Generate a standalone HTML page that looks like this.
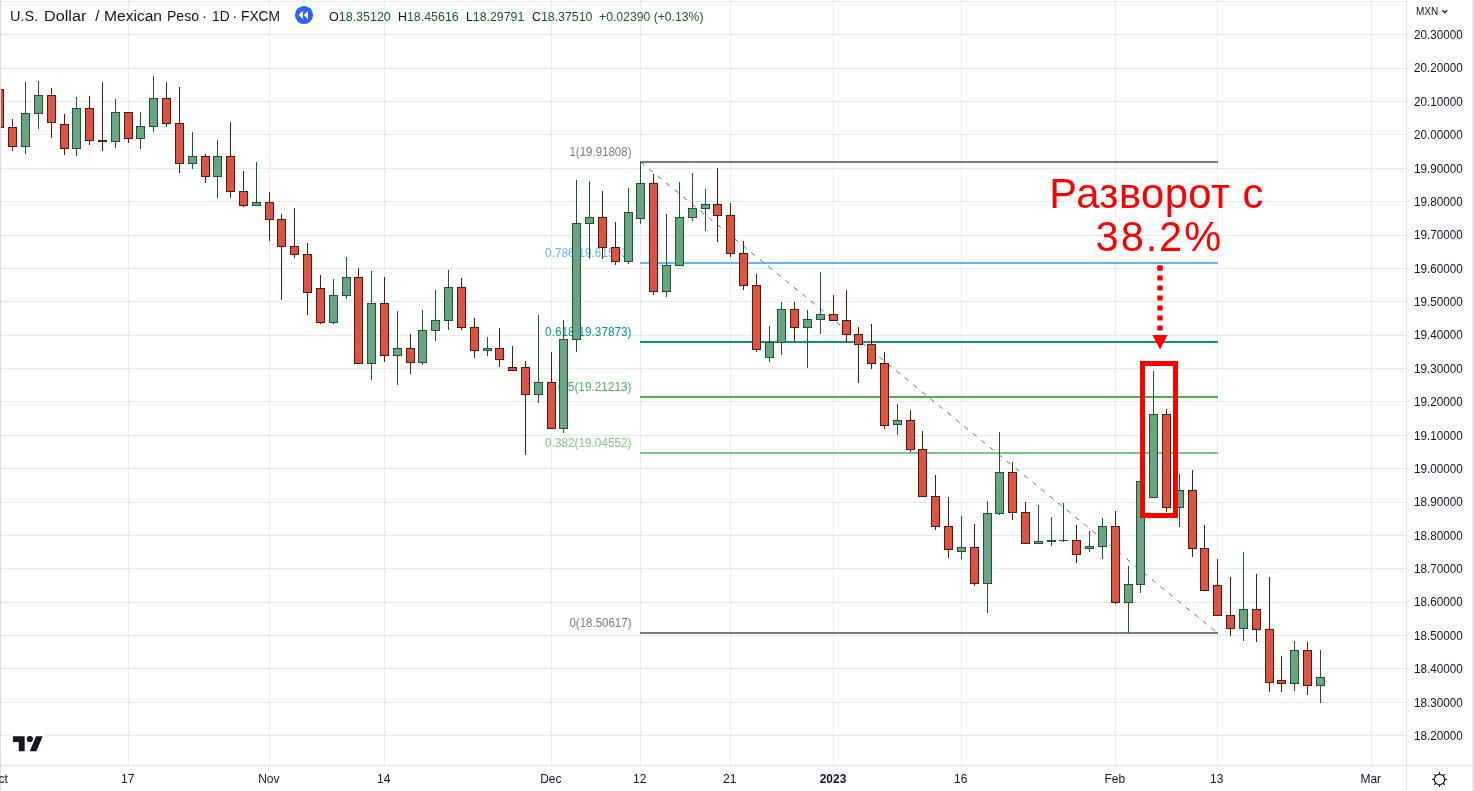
<!DOCTYPE html>
<html><head><meta charset="utf-8"><title>USDMXN</title>
<style>
html,body{margin:0;padding:0;background:#fff;}
body{width:1474px;height:791px;overflow:hidden;position:relative;font-family:"Liberation Sans",sans-serif;}
#L{position:absolute;left:0;top:0;width:1474px;height:791px;will-change:transform;transform:translateZ(0);}
svg{position:absolute;left:0;top:0;}
svg text{font-family:"Liberation Sans",sans-serif;}
.t{position:absolute;white-space:nowrap;}
</style></head><body><div id="L">
<svg width="1474" height="791" viewBox="0 0 1474 791" shape-rendering="crispEdges">
<rect x="1" y="1" width="1405" height="1" fill="rgba(42,46,57,0.105)"/>
<rect x="1" y="34" width="1405" height="1" fill="rgba(42,46,57,0.105)"/>
<rect x="1" y="68" width="1405" height="1" fill="rgba(42,46,57,0.105)"/>
<rect x="1" y="101" width="1405" height="1" fill="rgba(42,46,57,0.105)"/>
<rect x="1" y="134" width="1405" height="1" fill="rgba(42,46,57,0.105)"/>
<rect x="1" y="168" width="1405" height="1" fill="rgba(42,46,57,0.105)"/>
<rect x="1" y="201" width="1405" height="1" fill="rgba(42,46,57,0.105)"/>
<rect x="1" y="235" width="1405" height="1" fill="rgba(42,46,57,0.105)"/>
<rect x="1" y="268" width="1405" height="1" fill="rgba(42,46,57,0.105)"/>
<rect x="1" y="301" width="1405" height="1" fill="rgba(42,46,57,0.105)"/>
<rect x="1" y="335" width="1405" height="1" fill="rgba(42,46,57,0.105)"/>
<rect x="1" y="368" width="1405" height="1" fill="rgba(42,46,57,0.105)"/>
<rect x="1" y="401" width="1405" height="1" fill="rgba(42,46,57,0.105)"/>
<rect x="1" y="435" width="1405" height="1" fill="rgba(42,46,57,0.105)"/>
<rect x="1" y="468" width="1405" height="1" fill="rgba(42,46,57,0.105)"/>
<rect x="1" y="502" width="1405" height="1" fill="rgba(42,46,57,0.105)"/>
<rect x="1" y="535" width="1405" height="1" fill="rgba(42,46,57,0.105)"/>
<rect x="1" y="568" width="1405" height="1" fill="rgba(42,46,57,0.105)"/>
<rect x="1" y="602" width="1405" height="1" fill="rgba(42,46,57,0.105)"/>
<rect x="1" y="635" width="1405" height="1" fill="rgba(42,46,57,0.105)"/>
<rect x="1" y="668" width="1405" height="1" fill="rgba(42,46,57,0.105)"/>
<rect x="1" y="702" width="1405" height="1" fill="rgba(42,46,57,0.105)"/>
<rect x="1" y="735" width="1405" height="1" fill="rgba(42,46,57,0.105)"/>
<rect x="128" y="0" width="1" height="765" fill="rgba(42,46,57,0.085)"/>
<rect x="269" y="0" width="1" height="765" fill="rgba(42,46,57,0.085)"/>
<rect x="384" y="0" width="1" height="765" fill="rgba(42,46,57,0.085)"/>
<rect x="551" y="0" width="1" height="765" fill="rgba(42,46,57,0.085)"/>
<rect x="640" y="0" width="1" height="765" fill="rgba(42,46,57,0.085)"/>
<rect x="730" y="0" width="1" height="765" fill="rgba(42,46,57,0.085)"/>
<rect x="833" y="0" width="1" height="765" fill="rgba(42,46,57,0.085)"/>
<rect x="961" y="0" width="1" height="765" fill="rgba(42,46,57,0.085)"/>
<rect x="1115" y="0" width="1" height="765" fill="rgba(42,46,57,0.085)"/>
<rect x="1217" y="0" width="1" height="765" fill="rgba(42,46,57,0.085)"/>
<rect x="1371" y="0" width="1" height="765" fill="rgba(42,46,57,0.085)"/>
<rect x="640" y="161" width="578" height="2" fill="#787b86"/>
<rect x="640" y="262" width="578" height="2" fill="#64b5f6"/>
<rect x="640" y="341" width="578" height="2" fill="#089981"/>
<rect x="640" y="396" width="578" height="2" fill="#4caf50"/>
<rect x="640" y="452" width="578" height="2" fill="#81c784"/>
<rect x="640" y="632" width="578" height="2" fill="#787b86"/>
<line x1="640.5" y1="162" x2="1217.5" y2="633" stroke="#6f727d" stroke-width="1" stroke-dasharray="5 6" shape-rendering="auto"/>
<text x="631.5" y="156.2" text-anchor="end" font-size="12" fill="#787b86" textLength="62.1" lengthAdjust="spacingAndGlyphs" shape-rendering="auto">1(19.91808)</text>
<text x="631.5" y="257.2" text-anchor="end" font-size="12" fill="#64b5f6" textLength="86.4" lengthAdjust="spacingAndGlyphs" shape-rendering="auto">0.786(19.61593)</text>
<text x="631.5" y="336.2" text-anchor="end" font-size="12" fill="#089981" textLength="86.4" lengthAdjust="spacingAndGlyphs" shape-rendering="auto">0.618(19.37873)</text>
<text x="631.5" y="391.2" text-anchor="end" font-size="12" fill="#4caf50" textLength="73.5" lengthAdjust="spacingAndGlyphs" shape-rendering="auto">0.5(19.21213)</text>
<text x="631.5" y="447.2" text-anchor="end" font-size="12" fill="#81c784" textLength="86.4" lengthAdjust="spacingAndGlyphs" shape-rendering="auto">0.382(19.04552)</text>
<text x="631.5" y="627.2" text-anchor="end" font-size="12" fill="#787b86" textLength="62.1" lengthAdjust="spacingAndGlyphs" shape-rendering="auto">0(18.50617)</text>
<rect x="-1" y="89" width="1" height="39" fill="#5a1610"/>
<rect x="-5" y="89" width="9" height="39" fill="#5a1610"/>
<rect x="-4" y="90" width="7" height="37" fill="#d95443"/>
<rect x="12" y="119" width="1" height="32" fill="#5a1610"/>
<rect x="8" y="127" width="9" height="20" fill="#5a1610"/>
<rect x="9" y="128" width="7" height="18" fill="#d95443"/>
<rect x="25" y="82" width="1" height="72" fill="#1f5636"/>
<rect x="21" y="113" width="9" height="34" fill="#1f5636"/>
<rect x="22" y="114" width="7" height="32" fill="#69a583"/>
<rect x="38" y="81" width="1" height="48" fill="#1f5636"/>
<rect x="34" y="95" width="9" height="19" fill="#1f5636"/>
<rect x="35" y="96" width="7" height="17" fill="#69a583"/>
<rect x="51" y="88" width="1" height="50" fill="#5a1610"/>
<rect x="47" y="95" width="9" height="28" fill="#5a1610"/>
<rect x="48" y="96" width="7" height="26" fill="#d95443"/>
<rect x="64" y="114" width="1" height="41" fill="#5a1610"/>
<rect x="60" y="124" width="9" height="25" fill="#5a1610"/>
<rect x="61" y="125" width="7" height="23" fill="#d95443"/>
<rect x="76" y="97" width="1" height="59" fill="#1f5636"/>
<rect x="72" y="108" width="9" height="41" fill="#1f5636"/>
<rect x="73" y="109" width="7" height="39" fill="#69a583"/>
<rect x="89" y="96" width="1" height="49" fill="#5a1610"/>
<rect x="85" y="108" width="9" height="33" fill="#5a1610"/>
<rect x="86" y="109" width="7" height="31" fill="#d95443"/>
<rect x="102" y="82" width="1" height="69" fill="#5a1610"/>
<rect x="98" y="140" width="9" height="2" fill="#5a1610"/>
<rect x="115" y="99" width="1" height="49" fill="#1f5636"/>
<rect x="111" y="112" width="9" height="30" fill="#1f5636"/>
<rect x="112" y="113" width="7" height="28" fill="#69a583"/>
<rect x="128" y="112" width="1" height="31" fill="#5a1610"/>
<rect x="124" y="112" width="9" height="27" fill="#5a1610"/>
<rect x="125" y="113" width="7" height="25" fill="#d95443"/>
<rect x="140" y="112" width="1" height="37" fill="#1f5636"/>
<rect x="136" y="126" width="9" height="13" fill="#1f5636"/>
<rect x="137" y="127" width="7" height="11" fill="#69a583"/>
<rect x="153" y="76" width="1" height="56" fill="#1f5636"/>
<rect x="149" y="98" width="9" height="29" fill="#1f5636"/>
<rect x="150" y="99" width="7" height="27" fill="#69a583"/>
<rect x="166" y="82" width="1" height="45" fill="#5a1610"/>
<rect x="162" y="98" width="9" height="26" fill="#5a1610"/>
<rect x="163" y="99" width="7" height="24" fill="#d95443"/>
<rect x="179" y="87" width="1" height="86" fill="#5a1610"/>
<rect x="175" y="123" width="9" height="41" fill="#5a1610"/>
<rect x="176" y="124" width="7" height="39" fill="#d95443"/>
<rect x="192" y="132" width="1" height="37" fill="#1f5636"/>
<rect x="188" y="156" width="9" height="8" fill="#1f5636"/>
<rect x="189" y="157" width="7" height="6" fill="#69a583"/>
<rect x="205" y="154" width="1" height="29" fill="#5a1610"/>
<rect x="201" y="156" width="9" height="21" fill="#5a1610"/>
<rect x="202" y="157" width="7" height="19" fill="#d95443"/>
<rect x="217" y="140" width="1" height="58" fill="#1f5636"/>
<rect x="213" y="156" width="9" height="21" fill="#1f5636"/>
<rect x="214" y="157" width="7" height="19" fill="#69a583"/>
<rect x="230" y="122" width="1" height="76" fill="#5a1610"/>
<rect x="226" y="156" width="9" height="36" fill="#5a1610"/>
<rect x="227" y="157" width="7" height="34" fill="#d95443"/>
<rect x="243" y="171" width="1" height="36" fill="#5a1610"/>
<rect x="239" y="191" width="9" height="15" fill="#5a1610"/>
<rect x="240" y="192" width="7" height="13" fill="#d95443"/>
<rect x="256" y="162" width="1" height="44" fill="#1f5636"/>
<rect x="252" y="202" width="9" height="4" fill="#1f5636"/>
<rect x="253" y="203" width="7" height="2" fill="#69a583"/>
<rect x="269" y="192" width="1" height="49" fill="#5a1610"/>
<rect x="265" y="202" width="9" height="18" fill="#5a1610"/>
<rect x="266" y="203" width="7" height="16" fill="#d95443"/>
<rect x="281" y="214" width="1" height="86" fill="#5a1610"/>
<rect x="277" y="219" width="9" height="28" fill="#5a1610"/>
<rect x="278" y="220" width="7" height="26" fill="#d95443"/>
<rect x="294" y="208" width="1" height="50" fill="#5a1610"/>
<rect x="290" y="246" width="9" height="9" fill="#5a1610"/>
<rect x="291" y="247" width="7" height="7" fill="#d95443"/>
<rect x="307" y="243" width="1" height="72" fill="#5a1610"/>
<rect x="303" y="254" width="9" height="39" fill="#5a1610"/>
<rect x="304" y="255" width="7" height="37" fill="#d95443"/>
<rect x="320" y="275" width="1" height="49" fill="#5a1610"/>
<rect x="316" y="288" width="9" height="35" fill="#5a1610"/>
<rect x="317" y="289" width="7" height="33" fill="#d95443"/>
<rect x="333" y="279" width="1" height="45" fill="#1f5636"/>
<rect x="329" y="295" width="9" height="28" fill="#1f5636"/>
<rect x="330" y="296" width="7" height="26" fill="#69a583"/>
<rect x="346" y="257" width="1" height="42" fill="#1f5636"/>
<rect x="342" y="277" width="9" height="19" fill="#1f5636"/>
<rect x="343" y="278" width="7" height="17" fill="#69a583"/>
<rect x="358" y="268" width="1" height="96" fill="#5a1610"/>
<rect x="354" y="277" width="9" height="87" fill="#5a1610"/>
<rect x="355" y="278" width="7" height="85" fill="#d95443"/>
<rect x="371" y="271" width="1" height="109" fill="#1f5636"/>
<rect x="367" y="303" width="9" height="61" fill="#1f5636"/>
<rect x="368" y="304" width="7" height="59" fill="#69a583"/>
<rect x="384" y="277" width="1" height="85" fill="#5a1610"/>
<rect x="380" y="303" width="9" height="53" fill="#5a1610"/>
<rect x="381" y="304" width="7" height="51" fill="#d95443"/>
<rect x="397" y="311" width="1" height="74" fill="#1f5636"/>
<rect x="393" y="348" width="9" height="8" fill="#1f5636"/>
<rect x="394" y="349" width="7" height="6" fill="#69a583"/>
<rect x="410" y="334" width="1" height="40" fill="#5a1610"/>
<rect x="406" y="348" width="9" height="15" fill="#5a1610"/>
<rect x="407" y="349" width="7" height="13" fill="#d95443"/>
<rect x="422" y="310" width="1" height="55" fill="#1f5636"/>
<rect x="418" y="330" width="9" height="33" fill="#1f5636"/>
<rect x="419" y="331" width="7" height="31" fill="#69a583"/>
<rect x="435" y="290" width="1" height="51" fill="#1f5636"/>
<rect x="431" y="320" width="9" height="11" fill="#1f5636"/>
<rect x="432" y="321" width="7" height="9" fill="#69a583"/>
<rect x="448" y="270" width="1" height="60" fill="#1f5636"/>
<rect x="444" y="287" width="9" height="34" fill="#1f5636"/>
<rect x="445" y="288" width="7" height="32" fill="#69a583"/>
<rect x="461" y="278" width="1" height="52" fill="#5a1610"/>
<rect x="457" y="287" width="9" height="41" fill="#5a1610"/>
<rect x="458" y="288" width="7" height="39" fill="#d95443"/>
<rect x="474" y="318" width="1" height="40" fill="#5a1610"/>
<rect x="470" y="327" width="9" height="24" fill="#5a1610"/>
<rect x="471" y="328" width="7" height="22" fill="#d95443"/>
<rect x="487" y="337" width="1" height="19" fill="#1f5636"/>
<rect x="483" y="348" width="9" height="3" fill="#1f5636"/>
<rect x="484" y="349" width="7" height="1" fill="#69a583"/>
<rect x="499" y="328" width="1" height="39" fill="#5a1610"/>
<rect x="495" y="348" width="9" height="12" fill="#5a1610"/>
<rect x="496" y="349" width="7" height="10" fill="#d95443"/>
<rect x="512" y="346" width="1" height="25" fill="#5a1610"/>
<rect x="508" y="367" width="9" height="4" fill="#5a1610"/>
<rect x="509" y="368" width="7" height="2" fill="#d95443"/>
<rect x="525" y="361" width="1" height="94" fill="#5a1610"/>
<rect x="521" y="367" width="9" height="28" fill="#5a1610"/>
<rect x="522" y="368" width="7" height="26" fill="#d95443"/>
<rect x="538" y="315" width="1" height="88" fill="#1f5636"/>
<rect x="534" y="382" width="9" height="13" fill="#1f5636"/>
<rect x="535" y="383" width="7" height="11" fill="#69a583"/>
<rect x="551" y="352" width="1" height="77" fill="#5a1610"/>
<rect x="547" y="382" width="9" height="47" fill="#5a1610"/>
<rect x="548" y="383" width="7" height="45" fill="#d95443"/>
<rect x="563" y="320" width="1" height="113" fill="#1f5636"/>
<rect x="559" y="339" width="9" height="90" fill="#1f5636"/>
<rect x="560" y="340" width="7" height="88" fill="#69a583"/>
<rect x="576" y="180" width="1" height="172" fill="#1f5636"/>
<rect x="572" y="223" width="9" height="117" fill="#1f5636"/>
<rect x="573" y="224" width="7" height="115" fill="#69a583"/>
<rect x="589" y="181" width="1" height="78" fill="#1f5636"/>
<rect x="585" y="217" width="9" height="7" fill="#1f5636"/>
<rect x="586" y="218" width="7" height="5" fill="#69a583"/>
<rect x="602" y="191" width="1" height="68" fill="#5a1610"/>
<rect x="598" y="217" width="9" height="31" fill="#5a1610"/>
<rect x="599" y="218" width="7" height="29" fill="#d95443"/>
<rect x="615" y="222" width="1" height="43" fill="#5a1610"/>
<rect x="611" y="247" width="9" height="15" fill="#5a1610"/>
<rect x="612" y="248" width="7" height="13" fill="#d95443"/>
<rect x="628" y="188" width="1" height="76" fill="#1f5636"/>
<rect x="624" y="212" width="9" height="50" fill="#1f5636"/>
<rect x="625" y="213" width="7" height="48" fill="#69a583"/>
<rect x="640" y="162" width="1" height="62" fill="#1f5636"/>
<rect x="636" y="183" width="9" height="36" fill="#1f5636"/>
<rect x="637" y="184" width="7" height="34" fill="#69a583"/>
<rect x="653" y="174" width="1" height="121" fill="#5a1610"/>
<rect x="649" y="183" width="9" height="109" fill="#5a1610"/>
<rect x="650" y="184" width="7" height="107" fill="#d95443"/>
<rect x="666" y="214" width="1" height="83" fill="#1f5636"/>
<rect x="662" y="265" width="9" height="27" fill="#1f5636"/>
<rect x="663" y="266" width="7" height="25" fill="#69a583"/>
<rect x="679" y="182" width="1" height="84" fill="#1f5636"/>
<rect x="675" y="217" width="9" height="49" fill="#1f5636"/>
<rect x="676" y="218" width="7" height="47" fill="#69a583"/>
<rect x="692" y="173" width="1" height="48" fill="#1f5636"/>
<rect x="688" y="208" width="9" height="10" fill="#1f5636"/>
<rect x="689" y="209" width="7" height="8" fill="#69a583"/>
<rect x="705" y="189" width="1" height="42" fill="#1f5636"/>
<rect x="701" y="204" width="9" height="5" fill="#1f5636"/>
<rect x="702" y="205" width="7" height="3" fill="#69a583"/>
<rect x="717" y="168" width="1" height="74" fill="#5a1610"/>
<rect x="713" y="204" width="9" height="12" fill="#5a1610"/>
<rect x="714" y="205" width="7" height="10" fill="#d95443"/>
<rect x="730" y="203" width="1" height="54" fill="#5a1610"/>
<rect x="726" y="215" width="9" height="39" fill="#5a1610"/>
<rect x="727" y="216" width="7" height="37" fill="#d95443"/>
<rect x="743" y="241" width="1" height="49" fill="#5a1610"/>
<rect x="739" y="253" width="9" height="33" fill="#5a1610"/>
<rect x="740" y="254" width="7" height="31" fill="#d95443"/>
<rect x="756" y="274" width="1" height="78" fill="#5a1610"/>
<rect x="752" y="285" width="9" height="65" fill="#5a1610"/>
<rect x="753" y="286" width="7" height="63" fill="#d95443"/>
<rect x="769" y="326" width="1" height="36" fill="#1f5636"/>
<rect x="765" y="342" width="9" height="16" fill="#1f5636"/>
<rect x="766" y="343" width="7" height="14" fill="#69a583"/>
<rect x="781" y="302" width="1" height="53" fill="#1f5636"/>
<rect x="777" y="309" width="9" height="34" fill="#1f5636"/>
<rect x="778" y="310" width="7" height="32" fill="#69a583"/>
<rect x="794" y="302" width="1" height="39" fill="#5a1610"/>
<rect x="790" y="309" width="9" height="19" fill="#5a1610"/>
<rect x="791" y="310" width="7" height="17" fill="#d95443"/>
<rect x="807" y="310" width="1" height="58" fill="#1f5636"/>
<rect x="803" y="319" width="9" height="9" fill="#1f5636"/>
<rect x="804" y="320" width="7" height="7" fill="#69a583"/>
<rect x="820" y="272" width="1" height="62" fill="#1f5636"/>
<rect x="816" y="314" width="9" height="6" fill="#1f5636"/>
<rect x="817" y="315" width="7" height="4" fill="#69a583"/>
<rect x="833" y="295" width="1" height="26" fill="#5a1610"/>
<rect x="829" y="314" width="9" height="7" fill="#5a1610"/>
<rect x="830" y="315" width="7" height="5" fill="#d95443"/>
<rect x="846" y="290" width="1" height="52" fill="#5a1610"/>
<rect x="842" y="320" width="9" height="15" fill="#5a1610"/>
<rect x="843" y="321" width="7" height="13" fill="#d95443"/>
<rect x="858" y="327" width="1" height="56" fill="#5a1610"/>
<rect x="854" y="334" width="9" height="11" fill="#5a1610"/>
<rect x="855" y="335" width="7" height="9" fill="#d95443"/>
<rect x="871" y="324" width="1" height="45" fill="#5a1610"/>
<rect x="867" y="344" width="9" height="20" fill="#5a1610"/>
<rect x="868" y="345" width="7" height="18" fill="#d95443"/>
<rect x="884" y="352" width="1" height="77" fill="#5a1610"/>
<rect x="880" y="363" width="9" height="63" fill="#5a1610"/>
<rect x="881" y="364" width="7" height="61" fill="#d95443"/>
<rect x="897" y="404" width="1" height="31" fill="#1f5636"/>
<rect x="893" y="420" width="9" height="5" fill="#1f5636"/>
<rect x="894" y="421" width="7" height="3" fill="#69a583"/>
<rect x="910" y="410" width="1" height="42" fill="#5a1610"/>
<rect x="906" y="420" width="9" height="30" fill="#5a1610"/>
<rect x="907" y="421" width="7" height="28" fill="#d95443"/>
<rect x="922" y="431" width="1" height="66" fill="#5a1610"/>
<rect x="918" y="449" width="9" height="48" fill="#5a1610"/>
<rect x="919" y="450" width="7" height="46" fill="#d95443"/>
<rect x="935" y="475" width="1" height="55" fill="#5a1610"/>
<rect x="931" y="496" width="9" height="31" fill="#5a1610"/>
<rect x="932" y="497" width="7" height="29" fill="#d95443"/>
<rect x="948" y="497" width="1" height="61" fill="#5a1610"/>
<rect x="944" y="526" width="9" height="24" fill="#5a1610"/>
<rect x="945" y="527" width="7" height="22" fill="#d95443"/>
<rect x="961" y="516" width="1" height="43" fill="#1f5636"/>
<rect x="957" y="547" width="9" height="5" fill="#1f5636"/>
<rect x="958" y="548" width="7" height="3" fill="#69a583"/>
<rect x="974" y="524" width="1" height="62" fill="#5a1610"/>
<rect x="970" y="547" width="9" height="37" fill="#5a1610"/>
<rect x="971" y="548" width="7" height="35" fill="#d95443"/>
<rect x="987" y="501" width="1" height="112" fill="#1f5636"/>
<rect x="983" y="513" width="9" height="71" fill="#1f5636"/>
<rect x="984" y="514" width="7" height="69" fill="#69a583"/>
<rect x="999" y="432" width="1" height="83" fill="#1f5636"/>
<rect x="995" y="472" width="9" height="42" fill="#1f5636"/>
<rect x="996" y="473" width="7" height="40" fill="#69a583"/>
<rect x="1012" y="462" width="1" height="58" fill="#5a1610"/>
<rect x="1008" y="472" width="9" height="41" fill="#5a1610"/>
<rect x="1009" y="473" width="7" height="39" fill="#d95443"/>
<rect x="1025" y="502" width="1" height="42" fill="#5a1610"/>
<rect x="1021" y="512" width="9" height="32" fill="#5a1610"/>
<rect x="1022" y="513" width="7" height="30" fill="#d95443"/>
<rect x="1038" y="505" width="1" height="39" fill="#1f5636"/>
<rect x="1034" y="541" width="9" height="3" fill="#1f5636"/>
<rect x="1035" y="542" width="7" height="1" fill="#69a583"/>
<rect x="1051" y="517" width="1" height="29" fill="#1f5636"/>
<rect x="1047" y="540" width="9" height="2" fill="#1f5636"/>
<rect x="1063" y="503" width="1" height="39" fill="#1f5636"/>
<rect x="1059" y="540" width="9" height="1" fill="#1f5636"/>
<rect x="1076" y="525" width="1" height="38" fill="#5a1610"/>
<rect x="1072" y="540" width="9" height="15" fill="#5a1610"/>
<rect x="1073" y="541" width="7" height="13" fill="#d95443"/>
<rect x="1089" y="531" width="1" height="21" fill="#1f5636"/>
<rect x="1085" y="546" width="9" height="3" fill="#1f5636"/>
<rect x="1086" y="547" width="7" height="1" fill="#69a583"/>
<rect x="1102" y="518" width="1" height="41" fill="#1f5636"/>
<rect x="1098" y="526" width="9" height="21" fill="#1f5636"/>
<rect x="1099" y="527" width="7" height="19" fill="#69a583"/>
<rect x="1115" y="511" width="1" height="93" fill="#5a1610"/>
<rect x="1111" y="526" width="9" height="77" fill="#5a1610"/>
<rect x="1112" y="527" width="7" height="75" fill="#d95443"/>
<rect x="1128" y="566" width="1" height="67" fill="#1f5636"/>
<rect x="1124" y="584" width="9" height="19" fill="#1f5636"/>
<rect x="1125" y="585" width="7" height="17" fill="#69a583"/>
<rect x="1140" y="481" width="1" height="112" fill="#1f5636"/>
<rect x="1136" y="481" width="9" height="104" fill="#1f5636"/>
<rect x="1137" y="482" width="7" height="102" fill="#69a583"/>
<rect x="1153" y="371" width="1" height="127" fill="#1f5636"/>
<rect x="1149" y="414" width="9" height="84" fill="#1f5636"/>
<rect x="1150" y="415" width="7" height="82" fill="#69a583"/>
<rect x="1166" y="409" width="1" height="103" fill="#5a1610"/>
<rect x="1162" y="414" width="9" height="94" fill="#5a1610"/>
<rect x="1163" y="415" width="7" height="92" fill="#d95443"/>
<rect x="1179" y="474" width="1" height="53" fill="#1f5636"/>
<rect x="1175" y="490" width="9" height="18" fill="#1f5636"/>
<rect x="1176" y="491" width="7" height="16" fill="#69a583"/>
<rect x="1192" y="470" width="1" height="87" fill="#5a1610"/>
<rect x="1188" y="490" width="9" height="59" fill="#5a1610"/>
<rect x="1189" y="491" width="7" height="57" fill="#d95443"/>
<rect x="1204" y="525" width="1" height="66" fill="#5a1610"/>
<rect x="1200" y="548" width="9" height="43" fill="#5a1610"/>
<rect x="1201" y="549" width="7" height="41" fill="#d95443"/>
<rect x="1217" y="559" width="1" height="57" fill="#5a1610"/>
<rect x="1213" y="585" width="9" height="31" fill="#5a1610"/>
<rect x="1214" y="586" width="7" height="29" fill="#d95443"/>
<rect x="1230" y="577" width="1" height="59" fill="#5a1610"/>
<rect x="1226" y="615" width="9" height="14" fill="#5a1610"/>
<rect x="1227" y="616" width="7" height="12" fill="#d95443"/>
<rect x="1243" y="552" width="1" height="89" fill="#1f5636"/>
<rect x="1239" y="609" width="9" height="20" fill="#1f5636"/>
<rect x="1240" y="610" width="7" height="18" fill="#69a583"/>
<rect x="1256" y="574" width="1" height="68" fill="#5a1610"/>
<rect x="1252" y="609" width="9" height="21" fill="#5a1610"/>
<rect x="1253" y="610" width="7" height="19" fill="#d95443"/>
<rect x="1269" y="577" width="1" height="115" fill="#5a1610"/>
<rect x="1265" y="629" width="9" height="54" fill="#5a1610"/>
<rect x="1266" y="630" width="7" height="52" fill="#d95443"/>
<rect x="1281" y="656" width="1" height="36" fill="#5a1610"/>
<rect x="1277" y="680" width="9" height="4" fill="#5a1610"/>
<rect x="1278" y="681" width="7" height="2" fill="#d95443"/>
<rect x="1294" y="641" width="1" height="50" fill="#1f5636"/>
<rect x="1290" y="650" width="9" height="34" fill="#1f5636"/>
<rect x="1291" y="651" width="7" height="32" fill="#69a583"/>
<rect x="1307" y="642" width="1" height="53" fill="#5a1610"/>
<rect x="1303" y="650" width="9" height="36" fill="#5a1610"/>
<rect x="1304" y="651" width="7" height="34" fill="#d95443"/>
<rect x="1320" y="650" width="1" height="53" fill="#1f5636"/>
<rect x="1316" y="677" width="9" height="9" fill="#1f5636"/>
<rect x="1317" y="678" width="7" height="7" fill="#69a583"/>
<rect x="1142.5" y="363.5" width="33" height="152" fill="none" stroke="#ff0000" stroke-width="5" shape-rendering="auto"/>
<line x1="1160" y1="265.6" x2="1160" y2="332" stroke="#ff0000" stroke-width="5.4" stroke-dasharray="5 5" shape-rendering="auto"/>
<circle cx="1160" cy="268" r="2.7" fill="#ff0000" shape-rendering="auto"/>
<path d="M1152.3 335 L1167.7 335 L1160 349.5 Z" fill="#ff0000" shape-rendering="auto"/>
<rect x="11" y="734" width="34" height="19" fill="#fff"/>
<g transform="translate(12.9,732.8) scale(0.84)" fill="#131722" shape-rendering="auto"><path d="M14 22H7V11H0V4h14v18zM28 22h-8l7.5-18h8L28 22z"/><circle cx="20.2" cy="7.4" r="3.7"/></g>
<rect x="0" y="0" width="1" height="791" fill="#d9dce8"/>
<rect x="1472" y="0" width="2" height="791" fill="#e3e6ef"/>
<rect x="1406" y="0" width="1" height="791" fill="#e0e3eb"/>
<rect x="1" y="765" width="1471" height="1" fill="#e0e3eb"/>
<g shape-rendering="auto"><circle cx="304" cy="15" r="9.05" fill="#2962ff"/><path d="M298.7 15 L302.9 10.8 V19.2 Z M303.8 15 L308 10.8 V19.2 Z" fill="#fff"/></g>
<g shape-rendering="auto" stroke="#131722" stroke-width="1.15" fill="none"><circle cx="1439.5" cy="779.5" r="5.2"/><line x1="1444.70" y1="779.50" x2="1447.00" y2="779.50"/><line x1="1443.18" y1="783.18" x2="1444.80" y2="784.80"/><line x1="1439.50" y1="784.70" x2="1439.50" y2="787.00"/><line x1="1435.82" y1="783.18" x2="1434.20" y2="784.80"/><line x1="1434.30" y1="779.50" x2="1432.00" y2="779.50"/><line x1="1435.82" y1="775.82" x2="1434.20" y2="774.20"/><line x1="1439.50" y1="774.30" x2="1439.50" y2="772.00"/><line x1="1443.18" y1="775.82" x2="1444.80" y2="774.20"/></g>
<path d="M1442.3 10.2 L1444.7 12.6 L1447.1 10.2" stroke="#131722" stroke-width="1.3" fill="none" shape-rendering="auto"/>
</svg>
<div class="t" style="left:10.4px;top:5.5px;height:20px;line-height:20px;font-size:15.2px;color:#131722;transform-origin:0 50%;transform:scaleX(0.9544);">U.S.</div>
<div class="t" style="left:44.4px;top:5.5px;height:20px;line-height:20px;font-size:15.2px;color:#131722;transform-origin:0 50%;transform:scaleX(1.0662);">Dollar</div>
<div class="t" style="left:95.3px;top:5.5px;height:20px;line-height:20px;font-size:15.2px;color:#131722;">/</div>
<div class="t" style="left:104.2px;top:5.5px;height:20px;line-height:20px;font-size:15.2px;color:#131722;transform-origin:0 50%;transform:scaleX(1.0254);">Mexican</div>
<div class="t" style="left:167.3px;top:5.5px;height:20px;line-height:20px;font-size:15.2px;color:#131722;transform-origin:0 50%;transform:scaleX(0.9242);">Peso</div>
<div class="t" style="left:202.0px;top:5.5px;height:20px;line-height:20px;font-size:15.2px;color:#131722;">·</div>
<div class="t" style="left:211.7px;top:5.5px;height:20px;line-height:20px;font-size:15.2px;color:#131722;transform-origin:0 50%;transform:scaleX(0.9113);">1D</div>
<div class="t" style="left:232.2px;top:5.5px;height:20px;line-height:20px;font-size:15.2px;color:#131722;">·</div>
<div class="t" style="left:241.4px;top:5.5px;height:20px;line-height:20px;font-size:15.2px;color:#131722;transform-origin:0 50%;transform:scaleX(0.9063);">FXCM</div>
<div class="t" style="left:329.4px;top:6.600000000000001px;height:20px;line-height:20px;font-size:12.5px;color:#131722;transform-origin:0 50%;transform:scaleX(0.9990);">O<span style="color:#1f5636">18.35120</span></div>
<div class="t" style="left:397.9px;top:6.600000000000001px;height:20px;line-height:20px;font-size:12.5px;color:#131722;transform-origin:0 50%;transform:scaleX(0.9923);">H<span style="color:#1f5636">18.45616</span></div>
<div class="t" style="left:465.9px;top:6.600000000000001px;height:20px;line-height:20px;font-size:12.5px;color:#131722;transform-origin:0 50%;transform:scaleX(0.9866);">L<span style="color:#1f5636">18.29791</span></div>
<div class="t" style="left:532.1px;top:6.600000000000001px;height:20px;line-height:20px;font-size:12.5px;color:#131722;transform-origin:0 50%;transform:scaleX(0.9874);">C<span style="color:#1f5636">18.37510</span></div>
<div class="t" style="left:599.2px;top:6.600000000000001px;height:20px;line-height:20px;font-size:12.5px;color:#1f5636;transform-origin:0 50%;transform:scaleX(0.9764);">+0.02390 (+0.13%)</div>
<div class="t" style="left:1416.2px;top:1.4000000000000004px;height:20px;line-height:20px;font-size:11px;color:#131722;transform-origin:0 50%;transform:scaleX(0.9119);">MXN</div>
<div class="t" style="left:1413.6px;top:24.860000000000007px;height:20px;line-height:20px;font-size:12px;color:#131722;transform-origin:0 50%;transform:scaleX(0.9748);">20.30000</div>
<div class="t" style="left:1413.6px;top:57.86px;height:20px;line-height:20px;font-size:12px;color:#131722;transform-origin:0 50%;transform:scaleX(0.9748);">20.20000</div>
<div class="t" style="left:1413.6px;top:91.86px;height:20px;line-height:20px;font-size:12px;color:#131722;transform-origin:0 50%;transform:scaleX(0.9748);">20.10000</div>
<div class="t" style="left:1413.6px;top:124.86000000000001px;height:20px;line-height:20px;font-size:12px;color:#131722;transform-origin:0 50%;transform:scaleX(0.9748);">20.00000</div>
<div class="t" style="left:1413.6px;top:158.86px;height:20px;line-height:20px;font-size:12px;color:#131722;transform-origin:0 50%;transform:scaleX(0.9748);">19.90000</div>
<div class="t" style="left:1413.6px;top:191.86px;height:20px;line-height:20px;font-size:12px;color:#131722;transform-origin:0 50%;transform:scaleX(0.9748);">19.80000</div>
<div class="t" style="left:1413.6px;top:224.86px;height:20px;line-height:20px;font-size:12px;color:#131722;transform-origin:0 50%;transform:scaleX(0.9748);">19.70000</div>
<div class="t" style="left:1413.6px;top:258.85999999999996px;height:20px;line-height:20px;font-size:12px;color:#131722;transform-origin:0 50%;transform:scaleX(0.9748);">19.60000</div>
<div class="t" style="left:1413.6px;top:291.85999999999996px;height:20px;line-height:20px;font-size:12px;color:#131722;transform-origin:0 50%;transform:scaleX(0.9748);">19.50000</div>
<div class="t" style="left:1413.6px;top:324.85999999999996px;height:20px;line-height:20px;font-size:12px;color:#131722;transform-origin:0 50%;transform:scaleX(0.9748);">19.40000</div>
<div class="t" style="left:1413.6px;top:358.85999999999996px;height:20px;line-height:20px;font-size:12px;color:#131722;transform-origin:0 50%;transform:scaleX(0.9748);">19.30000</div>
<div class="t" style="left:1413.6px;top:391.85999999999996px;height:20px;line-height:20px;font-size:12px;color:#131722;transform-origin:0 50%;transform:scaleX(0.9748);">19.20000</div>
<div class="t" style="left:1413.6px;top:425.85999999999996px;height:20px;line-height:20px;font-size:12px;color:#131722;transform-origin:0 50%;transform:scaleX(0.9748);">19.10000</div>
<div class="t" style="left:1413.6px;top:458.85999999999996px;height:20px;line-height:20px;font-size:12px;color:#131722;transform-origin:0 50%;transform:scaleX(0.9748);">19.00000</div>
<div class="t" style="left:1413.6px;top:491.85999999999996px;height:20px;line-height:20px;font-size:12px;color:#131722;transform-origin:0 50%;transform:scaleX(0.9748);">18.90000</div>
<div class="t" style="left:1413.6px;top:525.86px;height:20px;line-height:20px;font-size:12px;color:#131722;transform-origin:0 50%;transform:scaleX(0.9748);">18.80000</div>
<div class="t" style="left:1413.6px;top:558.86px;height:20px;line-height:20px;font-size:12px;color:#131722;transform-origin:0 50%;transform:scaleX(0.9748);">18.70000</div>
<div class="t" style="left:1413.6px;top:591.86px;height:20px;line-height:20px;font-size:12px;color:#131722;transform-origin:0 50%;transform:scaleX(0.9748);">18.60000</div>
<div class="t" style="left:1413.6px;top:625.86px;height:20px;line-height:20px;font-size:12px;color:#131722;transform-origin:0 50%;transform:scaleX(0.9748);">18.50000</div>
<div class="t" style="left:1413.6px;top:658.86px;height:20px;line-height:20px;font-size:12px;color:#131722;transform-origin:0 50%;transform:scaleX(0.9748);">18.40000</div>
<div class="t" style="left:1413.6px;top:692.86px;height:20px;line-height:20px;font-size:12px;color:#131722;transform-origin:0 50%;transform:scaleX(0.9748);">18.30000</div>
<div class="t" style="left:1413.6px;top:725.86px;height:20px;line-height:20px;font-size:12px;color:#131722;transform-origin:0 50%;transform:scaleX(0.9748);">18.20000</div>
<div class="t" style="left:27.799999999999997px;width:200px;text-align:center;top:769px;height:20px;line-height:20px;font-size:12px;color:#131722;">17</div>
<div class="t" style="left:168.8px;width:200px;text-align:center;top:769px;height:20px;line-height:20px;font-size:12px;color:#131722;">Nov</div>
<div class="t" style="left:283.8px;width:200px;text-align:center;top:769px;height:20px;line-height:20px;font-size:12px;color:#131722;">14</div>
<div class="t" style="left:450.79999999999995px;width:200px;text-align:center;top:769px;height:20px;line-height:20px;font-size:12px;color:#131722;">Dec</div>
<div class="t" style="left:539.8px;width:200px;text-align:center;top:769px;height:20px;line-height:20px;font-size:12px;color:#131722;">12</div>
<div class="t" style="left:629.8px;width:200px;text-align:center;top:769px;height:20px;line-height:20px;font-size:12px;color:#131722;">21</div>
<div class="t" style="left:733px;width:200px;text-align:center;top:769px;height:20px;line-height:20px;font-size:12px;color:#131722;font-weight:bold;transform:scaleX(0.9961)">2023</div>
<div class="t" style="left:860.8px;width:200px;text-align:center;top:769px;height:20px;line-height:20px;font-size:12px;color:#131722;">16</div>
<div class="t" style="left:1014.8px;width:200px;text-align:center;top:769px;height:20px;line-height:20px;font-size:12px;color:#131722;">Feb</div>
<div class="t" style="left:1116.8px;width:200px;text-align:center;top:769px;height:20px;line-height:20px;font-size:12px;color:#131722;">13</div>
<div class="t" style="left:1270.8px;width:200px;text-align:center;top:769px;height:20px;line-height:20px;font-size:12px;color:#131722;">Mar</div>
<div class="t" style="left:-101.5px;width:200px;text-align:center;top:769px;height:20px;line-height:20px;font-size:12px;color:#131722;">Oct</div>
<div class="t" style="left:1049.3px;top:154.49px;height:80px;line-height:80px;font-size:41.6px;color:#ff0000;letter-spacing:0.5px">Разворот с</div><div class="t" style="left:1095.6px;top:196.79px;height:80px;line-height:80px;font-size:41.6px;color:#ff0000;letter-spacing:1.9px">38.2%</div>
</div></body></html>
